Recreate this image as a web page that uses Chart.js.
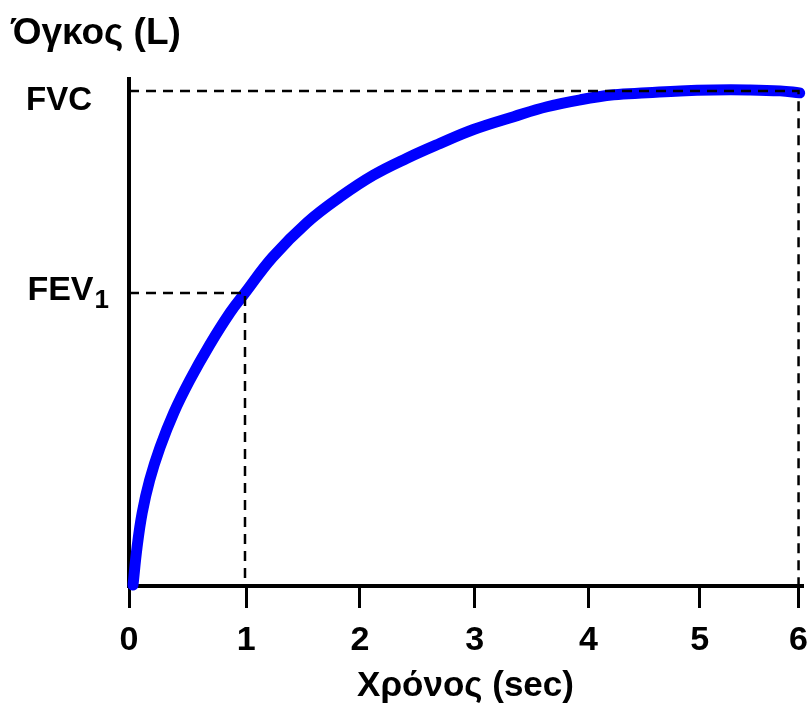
<!DOCTYPE html>
<html>
<head>
<meta charset="utf-8">
<script src="https://cdn.jsdelivr.net/npm/chart.js@4.4.0/dist/chart.umd.min.js"></script>
<style>
  html, body { margin: 0; padding: 0; background: #fff; }
  canvas { display: block; }
</style>
</head>
<body>
<canvas id="spiro" width="812" height="708"></canvas>
<script>
// forced expiration curve: time (sec) vs exhaled volume (L)
const timeSec = [0.035, 0.07, 0.115, 0.18, 0.27, 0.39, 0.53, 0.70, 0.88, 1.01, 1.25, 1.55, 1.84, 2.13, 2.42, 2.71, 3.00, 3.35, 3.64, 3.93, 4.22, 4.51, 4.80, 5.09, 5.39, 5.67, 5.84];
const volumeL = [0.01, 0.39, 0.74, 1.07, 1.40, 1.75, 2.08, 2.43, 2.76, 2.96, 3.32, 3.67, 3.93, 4.15, 4.32, 4.47, 4.61, 4.74, 4.84, 4.91, 4.96, 4.98, 5.00, 5.01, 5.01, 5.00, 4.98];

// tick values on the time axis and the labels printed under them
const xTickPos = [0, 1.02, 2.01, 3.01, 4, 4.97, 5.83];
const xTickLabels = ['0', '1', '2', '3', '4', '5', '6'];

// reference levels
const FEV1 = 2.96;
const FEV1_TIME = 1.01;
const FVC = 5.0;
const FVC_TIME = 5.83;

const FONT = '"Liberation Sans", Arial, Helvetica, sans-serif';

const pts = timeSec.map((t, i) => ({ x: t, y: volumeL[i] }));
const fev1Guide = [{ x: 0, y: FEV1 }, { x: FEV1_TIME, y: FEV1 }, { x: FEV1_TIME, y: 0 }];
const fvcGuide = [{ x: 0, y: FVC }, { x: FVC_TIME, y: FVC }, { x: FVC_TIME, y: 0 }];

const guideStyle = {
  borderColor: '#000',
  borderWidth: 2.5,
  borderDash: [10, 7],
  pointRadius: 0,
  tension: 0,
  fill: false,
  clip: false
};

// volume axis caption and the FVC / FEV1 level names
const labelsPlugin = {
  id: 'levelLabels',
  afterDraw(chart) {
    const ctx = chart.ctx;
    const y = chart.scales.y;
    ctx.save();
    ctx.fillStyle = '#000';
    ctx.textBaseline = 'alphabetic';

    ctx.font = 'bold 37px ' + FONT;
    ctx.textAlign = 'left';
    ctx.fillText('Όγκος (L)', 11, 44);

    ctx.font = 'bold 33px ' + FONT;
    ctx.textAlign = 'right';
    ctx.fillText('FVC', 92, y.getPixelForValue(FVC) + 19);

    const fevY = y.getPixelForValue(FEV1) + 7;
    ctx.font = 'bold 26px ' + FONT;
    const subW = ctx.measureText('1').width;
    ctx.fillText('1', 109, fevY + 8);
    ctx.font = 'bold 34px ' + FONT;
    ctx.fillText('FEV', 109 - subW - 1, fevY);
    ctx.restore();
  }
};

new Chart(document.getElementById('spiro'), {
  type: 'line',
  data: {
    datasets: [
      Object.assign({ data: fvcGuide }, guideStyle),
      Object.assign({ data: fev1Guide }, guideStyle),
      {
        data: pts,
        borderColor: '#0000ff',
        borderWidth: 11,
        borderCapStyle: 'round',
        borderJoinStyle: 'round',
        tension: 0.4,
        pointRadius: 0,
        fill: false,
        clip: false
      }
    ]
  },
  options: {
    responsive: false,
    animation: false,
    events: [],
    layout: { padding: { left: 0, right: 10, top: 79, bottom: 0 } },
    plugins: { legend: { display: false }, tooltip: { enabled: false } },
    scales: {
      x: {
        type: 'linear',
        min: 0,
        max: 5.86,
        afterBuildTicks(scale) {
          scale.ticks = xTickPos.map(v => ({ value: v }));
        },
        afterFit(scale) {
          scale.height = 122;
          scale.paddingLeft = 0;
          scale.paddingRight = 0;
        },
        border: { display: true, color: '#000', width: 4 },
        grid: {
          display: true,
          drawOnChartArea: false,
          drawTicks: true,
          tickLength: 22,
          tickWidth: 3,
          tickColor: '#000',
          color: '#000',
          lineWidth: 3
        },
        ticks: {
          autoSkip: false,
          maxRotation: 0,
          padding: 12,
          color: '#000',
          font: { family: FONT, size: 34, weight: 'bold' },
          callback: (v, i) => xTickLabels[i]
        },
        title: {
          display: true,
          text: 'Χρόνος (sec)',
          color: '#000',
          font: { family: FONT, size: 35, weight: 'bold' },
          padding: { top: 0, bottom: 1 }
        }
      },
      y: {
        type: 'linear',
        min: 0,
        max: 5.12,
        afterFit(scale) { scale.width = 129; },
        border: { display: true, color: '#000', width: 4 },
        grid: { display: false },
        ticks: { display: false }
      }
    }
  },
  plugins: [labelsPlugin]
});
</script>
</body>
</html>
